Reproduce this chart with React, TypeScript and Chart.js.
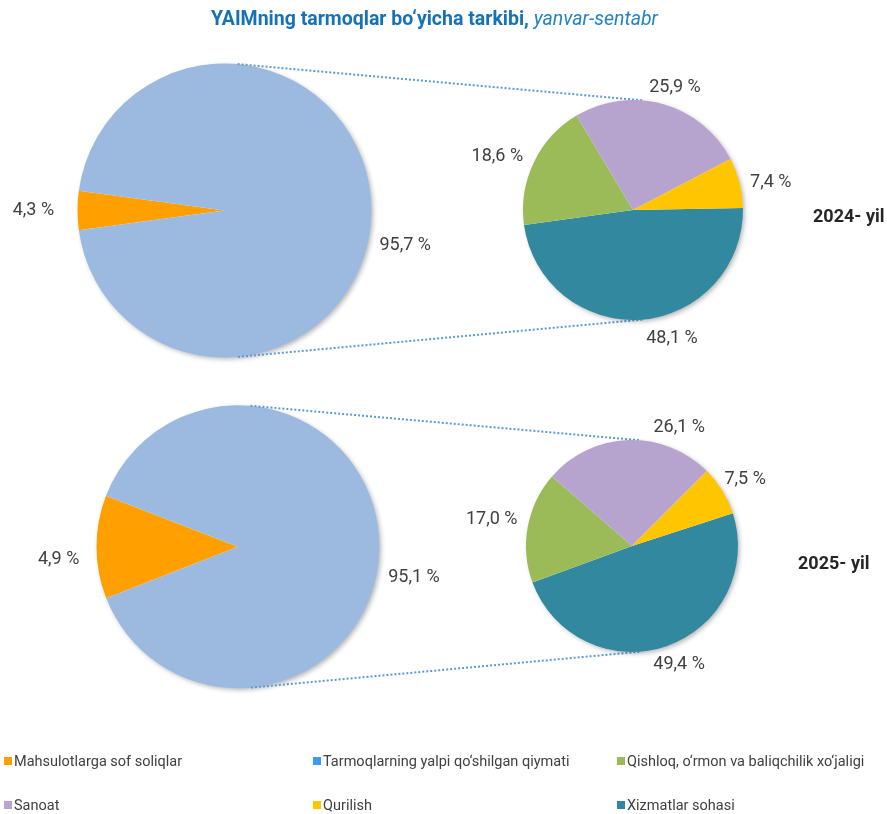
import React, { useEffect, useRef } from "react";
import { Chart, registerables } from "chart.js";

Chart.register(...registerables);

// ---------------- data ----------------
const bigCategories = ["Mahsulotlarga sof soliqlar", "Tarmoqlarning yalpi qo‘shilgan qiymati"];
const smallCategories = ["Xizmatlar sohasi", "Qishloq, o‘rmon va baliqchilik xo‘jaligi", "Sanoat", "Qurilish"];

const big2024Values = [4.3, 95.7];
const small2024Values = [48.1, 18.6, 25.9, 7.4];
// the 2025 wedge is drawn wider in the picture than its printed share
const big2025Values = [11.8, 88.2];
const big2025Labels = ["4,9 %", "95,1 %"];
const small2025Values = [49.4, 17.0, 26.1, 7.5];

const yearLabels = ["2024- yil", "2025- yil"];

const legendItems = [
  "Mahsulotlarga sof soliqlar",
  "Tarmoqlarning yalpi qo‘shilgan qiymati",
  "Qishloq, o‘rmon va baliqchilik xo‘jaligi",
  "Sanoat",
  "Qurilish",
  "Xizmatlar sohasi",
];

// ---------------- styles ----------------
const W = 887;
const H = 814;
const cOrange = "#FFA000";
const cLightBlue = "#9CBAE0";
const cLegendBlue = "#3D9BEF";
const cGreen = "#9BBB59";
const cPurple = "#B6A4CE";
const cYellow = "#FFC600";
const cTeal = "#32899F";
const legendColors = [cOrange, cLegendBlue, cGreen, cPurple, cYellow, cTeal];
const bigColors = [cOrange, cLightBlue];
const smallColors = [cTeal, cGreen, cPurple, cYellow];
const textColor = "#404040";
const FONT = "Roboto, 'Noto Sans', sans-serif";

const fmt = (v: number) => v.toFixed(1).replace(".", ",") + " %";

type PieSpec = {
  cx: number;
  cy: number;
  r: number;
  rotation: number;
  values: number[];
  colors: string[];
  cats: string[];
  labels: string[];
  // label placement: [angle in degrees (canvas, clockwise from 3 o'clock), distance as multiple of radius]
  placements: [number, number][];
};

const pies: PieSpec[] = [
  {
    cx: 224.5, cy: 210.5, r: 147, rotation: 262.26,
    values: big2024Values, colors: bigColors, cats: bigCategories,
    labels: big2024Values.map(fmt),
    placements: [[180.3, 1.30], [10.5, 1.25]],
  },
  {
    cx: 633, cy: 210, r: 110, rotation: 89,
    values: small2024Values, colors: smallColors, cats: smallCategories,
    labels: small2024Values.map(fmt),
    placements: [[73, 1.21], [202, 1.33], [288.7, 1.19], [348, 1.28]],
  },
  {
    cx: 238, cy: 546.7, r: 141.5, rotation: 248.6,
    values: big2025Values, colors: bigColors, cats: bigCategories,
    labels: big2025Labels,
    placements: [[176.5, 1.27], [9.3, 1.26]],
  },
  {
    cx: 632, cy: 546, r: 106, rotation: 72,
    values: small2025Values, colors: smallColors, cats: smallCategories,
    labels: small2025Values.map(fmt),
    placements: [[68.1, 1.19], [191.3, 1.35], [291.4, 1.22], [329, 1.245]],
  },
];

function arcGeom(chart: any) {
  const a = chart.getDatasetMeta(0).data[0] as any;
  return { x: a.x as number, y: a.y as number, r: a.outerRadius as number };
}

function makeDecor(spec: PieSpec, getBig: (() => any) | null) {
  return {
    id: "pieDecor",
    beforeDatasetsDraw(chart: any) {
      const ctx = chart.ctx as CanvasRenderingContext2D;
      const g = arcGeom(chart);
      // dotted connector lines from the big pie
      if (getBig) {
        const big = getBig();
        if (big) {
          const b = arcGeom(big);
          const ux = g.x - b.x;
          const uy = g.y - b.y;
          const d = Math.hypot(ux, uy);
          const alpha = Math.atan2(uy, ux);
          const phi = Math.asin((b.r - g.r) / d);
          const thetas = [alpha - Math.PI / 2 + phi, alpha + Math.PI / 2 - phi];
          ctx.save();
          ctx.strokeStyle = "#5B9BD5";
          ctx.lineWidth = 2;
          ctx.setLineDash([2, 2]);
          for (const t of thetas) {
            ctx.beginPath();
            ctx.moveTo(b.x + b.r * Math.cos(t), b.y + b.r * Math.sin(t));
            ctx.lineTo(g.x + g.r * Math.cos(t), g.y + g.r * Math.sin(t));
            ctx.stroke();
          }
          ctx.restore();
        }
      }
      // soft shadow under the pie
      ctx.save();
      ctx.shadowColor = "rgba(0,0,0,0.30)";
      ctx.shadowBlur = 5;
      ctx.shadowOffsetX = 2;
      ctx.shadowOffsetY = 2;
      ctx.fillStyle = "#ffffff";
      ctx.beginPath();
      ctx.arc(g.x, g.y, g.r - 0.5, 0, Math.PI * 2);
      ctx.fill();
      ctx.restore();
    },
    afterDatasetsDraw(chart: any) {
      const ctx = chart.ctx as CanvasRenderingContext2D;
      const g = arcGeom(chart);
      ctx.save();
      ctx.font = `18px ${FONT}`;
      ctx.fillStyle = textColor;
      ctx.textAlign = "center";
      ctx.textBaseline = "middle";
      spec.labels.forEach((txt, i) => {
        const [deg, k] = spec.placements[i];
        const t = (deg * Math.PI) / 180;
        ctx.fillText(txt, g.x + g.r * k * Math.cos(t), g.y + g.r * k * Math.sin(t) + 1.5);
      });
      ctx.restore();
    },
  };
}

export default function App() {
  const refs = [useRef<HTMLCanvasElement>(null), useRef<HTMLCanvasElement>(null), useRef<HTMLCanvasElement>(null), useRef<HTMLCanvasElement>(null)];

  useEffect(() => {
    const charts: any[] = [];
    pies.forEach((spec, i) => {
      const canvas = refs[i].current;
      if (!canvas) return;
      const bigIndex = i % 2 === 1 ? i - 1 : -1;
      const chart = new Chart(canvas, {
        type: "pie",
        data: {
          labels: spec.cats,
          datasets: [
            {
              data: spec.values,
              backgroundColor: spec.colors,
              borderWidth: 0,
            },
          ],
        },
        options: {
          responsive: false,
          animation: false,
          events: [],
          rotation: spec.rotation,
          layout: {
            padding: {
              left: spec.cx - spec.r,
              right: W - spec.cx - spec.r,
              top: spec.cy - spec.r,
              bottom: H - spec.cy - spec.r,
            },
          },
          plugins: {
            legend: { display: false },
            tooltip: { enabled: false },
            title: { display: false },
          },
        },
        plugins: [makeDecor(spec, bigIndex >= 0 ? () => charts[bigIndex] : null)],
      } as any);
      charts[i] = chart;
    });
    return () => {
      charts.forEach((c) => c && c.destroy());
    };
  }, []);

  const legendCols = [4, 313, 617];
  const legendRows = [761, 805];

  return (
    <div
      style={{
        position: "absolute",
        left: 0,
        top: 0,
        width: W,
        height: H,
        background: "#ffffff",
        fontFamily: FONT,
        overflow: "hidden",
      }}
    >
      {refs.map((r, i) => (
        <canvas key={i} ref={r} width={W} height={H} style={{ position: "absolute", left: 0, top: 0 }} />
      ))}
      <div
        style={{
          position: "absolute",
          left: 0,
          width: 869,
          top: 6,
          textAlign: "center",
          fontSize: 19.5,
          lineHeight: "26px",
          whiteSpace: "nowrap",
        }}
      >
        <span style={{ color: "#1672B8", fontWeight: 700 }}>YAIMning tarmoqlar bo‘yicha tarkibi, </span>
        <span style={{ color: "#2382C6", fontStyle: "italic" }}>yanvar-sentabr</span>
      </div>
      {yearLabels.map((t, i) => (
        <div
          key={t}
          style={{
            position: "absolute",
            left: i === 0 ? 813 : 798,
            top: (i === 0 ? 216 : 563) - 12,
            lineHeight: "24px",
            fontSize: 18,
            fontWeight: 700,
            color: "#262626",
            whiteSpace: "nowrap",
          }}
        >
          {t}
        </div>
      ))}
      {legendItems.map((t, i) => {
        const col = i % 3;
        const row = Math.floor(i / 3);
        return (
          <div
            key={t}
            style={{
              position: "absolute",
              left: legendCols[col],
              top: legendRows[row] - 10,
              height: 20,
              display: "flex",
              alignItems: "center",
              whiteSpace: "nowrap",
              fontSize: 14.5,
              color: textColor,
            }}
          >
            <span style={{ display: "inline-block", width: 8, height: 8, background: legendColors[i], marginRight: 2 }} />
            <span>{t}</span>
          </div>
        );
      })}
    </div>
  );
}
